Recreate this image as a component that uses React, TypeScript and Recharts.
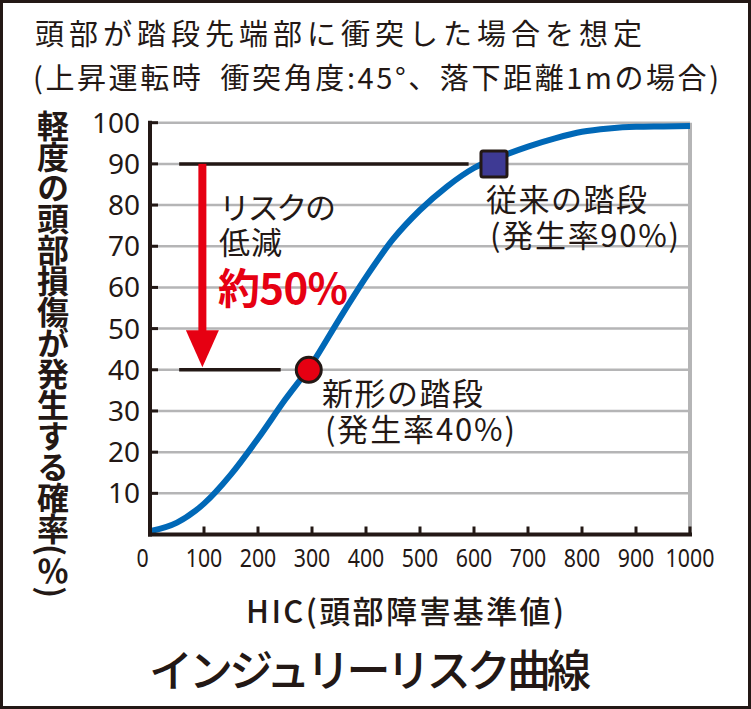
import React from "react";
import { ComposedChart, Line, Scatter, XAxis, YAxis, CartesianGrid, ReferenceLine } from "recharts";

// injury risk curve
const hicValues = [0, 50, 100, 150, 200, 250, 300, 350, 400, 450, 500, 550, 600, 650, 700, 750, 800, 850, 900, 950, 1000];
const riskValues = [0.8, 2.9, 7.5, 14.6, 23.3, 32.7, 41.5, 52.2, 62.5, 71.7, 78.8, 84.5, 89, 91.8, 94.2, 96.2, 97.8, 98.6, 99, 99.1, 99.2];

// the two step designs
const newStepHic = [294];
const newStepRisk = [40];
const oldStepHic = [637];
const oldStepRisk = [90];

// guide lines + arrow
const guideStart = 54;
const guideEndOld = 590;
const guideEndNew = 242;
const arrowHic = 97;

const xTicks = [0, 100, 200, 300, 400, 500, 600, 700, 800, 900, 1000];
const yTicks = [10, 20, 30, 40, 50, 60, 70, 80, 90, 100];

const curveData = hicValues.map((hic, i) => ({ hic, risk: riskValues[i] }));
const newStepData = newStepHic.map((hic, i) => ({ hic, risk: newStepRisk[i] }));
const oldStepData = oldStepHic.map((hic, i) => ({ hic, risk: oldStepRisk[i] }));

const DARK = "#231815";
const GRAY = "#b5b5b6";
const BLUE = "#0068b7";
const RED = "#e60012";
const PURPLE = "#3e3a94";
const JP = "'Noto Sans CJK JP', sans-serif";
const NUM = "'Noto Sans', sans-serif";

const YTick = (props: any) => {
  const { x, y, payload } = props;
  return (
    <text x={x} y={y + 10} textAnchor="end" fontSize={28} fontFamily={NUM} fill={DARK}>
      {payload.value}
    </text>
  );
};

const XTick = (props: any) => {
  const { x, y, payload } = props;
  const s = String(payload.value);
  return (
    <text
      x={payload.value === 0 ? x - 7.5 : x}
      y={y + 40}
      textAnchor="middle"
      fontSize={26}
      fontFamily={NUM}
      fill={DARK}
      textLength={s.length * 12.2}
      lengthAdjust="spacingAndGlyphs"
    >
      {s}
    </text>
  );
};

const SquareMarker = (props: any) => {
  const { cx, cy } = props;
  return <rect x={cx - 13} y={cy - 13} width={26} height={26} rx={2} fill={PURPLE} stroke={DARK} strokeWidth={3} />;
};

const CircleMarker = (props: any) => {
  const { cx, cy } = props;
  return <circle cx={cx} cy={cy} r={12.5} fill={RED} stroke={DARK} strokeWidth={3} />;
};

const ArrowShape = (props: any) => {
  const { x1, y1, y2 } = props;
  const tip = y2 - 2.5;
  const headH = 37;
  const headW = 33;
  return (
    <g>
      <rect x={x1 - 4} y={y1} width={8} height={tip - headH - y1 + 1} fill={RED} />
      <polygon points={`${x1 - headW / 2},${tip - headH} ${x1 + headW / 2},${tip - headH} ${x1},${tip}`} fill={RED} />
    </g>
  );
};

const Label = ({ x, y, size = 31, w, children, color = DARK, weight = 400 }: any) => (
  <text x={x} y={y} fontSize={size} fontFamily={JP} fill={color} fontWeight={weight} textLength={w} lengthAdjust="spacing">
    {children}
  </text>
);

// several lines in one text element: [text, x, baseline, width, size?, color?, weight?]
const Block = ({ lines }: { lines: any[] }) => (
  <text fontFamily={JP} fill={DARK} fontSize={31}>
    {lines.map(([t, x, y, w, size, color, weight], i) => (
      <tspan
        key={i}
        x={x}
        y={y}
        textLength={w}
        lengthAdjust="spacing"
        fontSize={size || 31}
        fill={color || DARK}
        fontWeight={weight || 400}
      >
        {t}
      </tspan>
    ))}
  </text>
);

export default function App() {
  return (
    <div style={{ position: "absolute", left: 0, top: 0, width: 751, height: 709, background: "#fff" }}>
      <ComposedChart width={751} height={709} margin={{ top: 122.7, right: 61, bottom: 134.5, left: 0 }}>
        <CartesianGrid horizontal vertical={false} stroke={GRAY} strokeWidth={2.5} />
        <XAxis
          type="number"
          dataKey="hic"
          domain={[0, 1000]}
          ticks={xTicks}
          interval={0}
          height={40}
          tickSize={-8}
          tickMargin={0}
          axisLine={{ stroke: DARK, strokeWidth: 4, strokeLinecap: "square" }}
          tickLine={{ stroke: DARK, strokeWidth: 3 }}
          tick={<XTick />}
        />
        <YAxis
          type="number"
          domain={[0, 100]}
          ticks={yTicks}
          interval={0}
          width={150}
          tickSize={-8}
          tickMargin={18}
          axisLine={{ stroke: DARK, strokeWidth: 4, strokeLinecap: "square" }}
          tickLine={{ stroke: DARK, strokeWidth: 3 }}
          tick={<YTick />}
        />
        <ReferenceLine x={1000} stroke={GRAY} strokeWidth={4} />
        <ReferenceLine segment={[{ x: guideStart, y: 90 }, { x: guideEndOld, y: 90 }]} stroke={DARK} strokeWidth={3.5} />
        <ReferenceLine segment={[{ x: guideStart, y: 40 }, { x: guideEndNew, y: 40 }]} stroke={DARK} strokeWidth={3.5} />
        <ReferenceLine segment={[{ x: arrowHic, y: 90 }, { x: arrowHic, y: 40 }]} shape={<ArrowShape />} />
        <Line
          data={curveData}
          dataKey="risk"
          type="monotone"
          stroke={BLUE}
          strokeWidth={6}
          dot={false}
          activeDot={false}
          isAnimationActive={false}
        />
        <Scatter data={newStepData} dataKey="risk" shape={<CircleMarker />} isAnimationActive={false} />
        <Scatter data={oldStepData} dataKey="risk" shape={<SquareMarker />} isAnimationActive={false} />
      </ComposedChart>

      <svg width={751} height={709} style={{ position: "absolute", left: 0, top: 0, pointerEvents: "none" }}>
        <rect x={1.5} y={1.5} width={748} height={706} fill="none" stroke={DARK} strokeWidth={3} />
        <Block
          lines={[
            ["頭部が踏段先端部に衝突した場合を想定", 35, 45, 607, 29],
            ["(上昇運転時\u2002衝突角度:45°、落下距離1mの場合)", 33, 89, 686, 29],
          ]}
        />
        <Block
          lines={[
            ["リスクの", 219, 219, 117],
            ["低減", 219, 254, 63],
            ["約50%", 218, 304, 130, 42, RED, 700],
          ]}
        />
        <Block
          lines={[
            ["従来の踏段", 486, 211, 161],
            ["(発生率90%)", 490, 247, 189],
          ]}
        />
        <Block
          lines={[
            ["新形の踏段", 322, 404.5, 161],
            ["(発生率40%)", 325, 441, 190],
          ]}
        />
        <Label x={246} y={623} w={318} weight={500}>HIC(頭部障害基準値)</Label>
        <Label x={149} y={687} size={44} w={442} weight={500}>インジュリーリスク曲線</Label>
      </svg>

      <div
        style={{
          position: "absolute",
          left: 37,
          top: 110,
          width: 32,
          writingMode: "vertical-rl",
          fontFamily: JP,
          fontSize: 32,
          lineHeight: "32px",
          letterSpacing: -1,
          fontWeight: 700,
          color: DARK,
          whiteSpace: "nowrap",
        }}
      >
        軽度の頭部損傷が発生する確率(％)
      </div>
    </div>
  );
}
